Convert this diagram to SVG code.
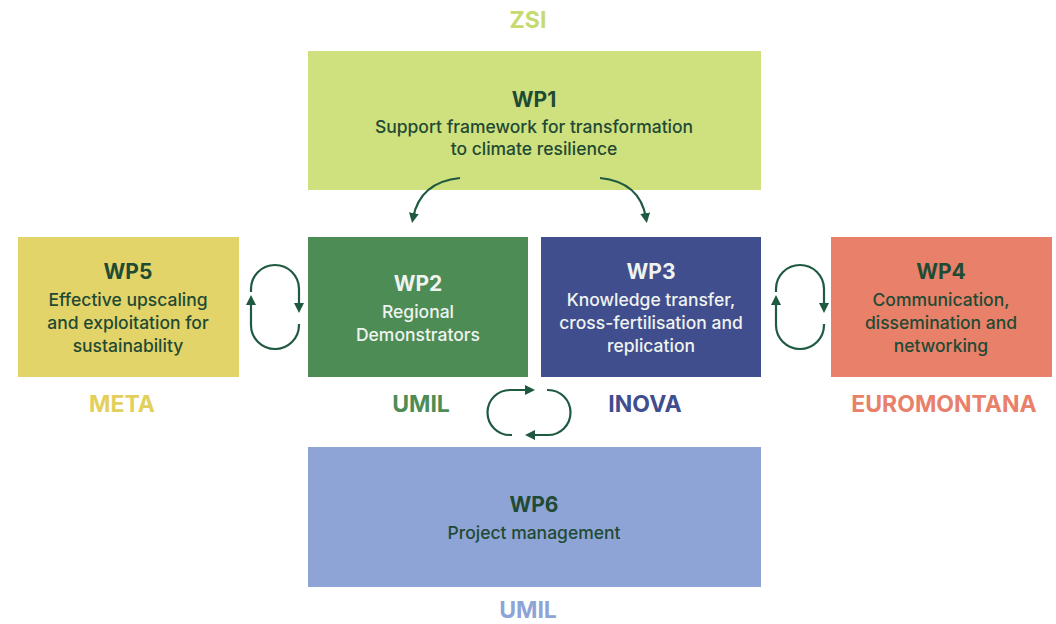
<svg xmlns="http://www.w3.org/2000/svg" width="1056" height="624" viewBox="0 0 1056 624">
<defs>
<marker id="ah" markerWidth="10" markerHeight="10" refX="5" refY="5" orient="auto" markerUnits="userSpaceOnUse">
<path d="M0,0 L10,5 L0,10 z" fill="#1f5a40"/>
</marker>
<style>
.t{font-family:Inter,"Noto Sans","Liberation Sans",sans-serif;text-anchor:middle}
.h{font-size:21px;font-weight:700}
.b{font-size:17.5px;font-weight:500}
.dk{fill:#1f4a33}
.lt{fill:#eef3f0}
.lab{font-size:23px;font-weight:700}
.c{fill:none;stroke:#1f5a40;stroke-width:2.2;marker-end:url(#ah)}
</style>
</defs>
<rect width="1056" height="624" fill="#ffffff"/>
<g id="wp1">
<rect x="308" y="51" width="453" height="139" fill="#cfe07f"/>
<text class="t h dk" x="534" y="107">WP1</text>
<text class="t b dk" x="534" y="133">Support framework for transformation</text>
<text class="t b dk" x="534" y="155">to climate resilience</text>
<text class="t lab" x="528" y="28" fill="#c6da70">ZSI</text>
</g>
<g id="wp5">
<rect x="18" y="237" width="221" height="140" fill="#e3d46a"/>
<text class="t h dk" x="128" y="279">WP5</text>
<text class="t b dk" x="128" y="306">Effective upscaling</text>
<text class="t b dk" x="128" y="329">and exploitation for</text>
<text class="t b dk" x="128" y="352">sustainability</text>
<text class="t lab" x="122" y="412" fill="#e3cf5c">META</text>
</g>
<g id="wp2">
<rect x="308" y="237" width="220" height="140" fill="#4e8c55"/>
<text class="t h lt" x="418" y="291">WP2</text>
<text class="t b lt" x="418" y="318">Regional</text>
<text class="t b lt" x="418" y="341">Demonstrators</text>
<text class="t lab" x="421" y="412" fill="#4e8c55">UMIL</text>
</g>
<g id="wp3">
<rect x="541" y="237" width="220" height="140" fill="#414e8d"/>
<text class="t h lt" x="651" y="279">WP3</text>
<text class="t b lt" x="651" y="306">Knowledge transfer,</text>
<text class="t b lt" x="651" y="329">cross-fertilisation and</text>
<text class="t b lt" x="651" y="352">replication</text>
<text class="t lab" x="645" y="412" fill="#414e8d">INOVA</text>
</g>
<g id="wp4">
<rect x="831" y="237" width="221" height="140" fill="#e8806a"/>
<text class="t h dk" x="941" y="279">WP4</text>
<text class="t b dk" x="941" y="306">Communication,</text>
<text class="t b dk" x="941" y="329">dissemination and</text>
<text class="t b dk" x="941" y="352">networking</text>
<text class="t lab" x="944" y="412" fill="#e8806a">EUROMONTANA</text>
</g>
<g id="wp6">
<rect x="308" y="447" width="453" height="140" fill="#8fa4d6"/>
<text class="t h dk" x="534" y="512">WP6</text>
<text class="t b dk" x="534" y="539">Project management</text>
<text class="t lab" x="528" y="618" fill="#8fa4d6">UMIL</text>
</g>
<g id="connectors">
<path class="c" d="M460,178 Q420,182 413,218"/>
<path class="c" d="M600,178 Q640,182 646,218"/>
<path class="c" d="M251,292 L251,289 A24,24 0 0 1 299,289 L299,308"/>
<path class="c" d="M299,324 L299,325 A24,24 0 0 1 251,325 L251,300"/>
<path class="c" d="M776,292 L776,289 A24,24 0 0 1 824,289 L824,308"/>
<path class="c" d="M824,324 L824,325 A24,24 0 0 1 776,325 L776,300"/>
<path class="c" d="M512,435 L510,435 A22.5,22.5 0 0 1 510,390 L530,390"/>
<path class="c" d="M547,390 L548,390 A22.5,22.5 0 0 1 548,435 L530,435"/>
</g>
</svg>
